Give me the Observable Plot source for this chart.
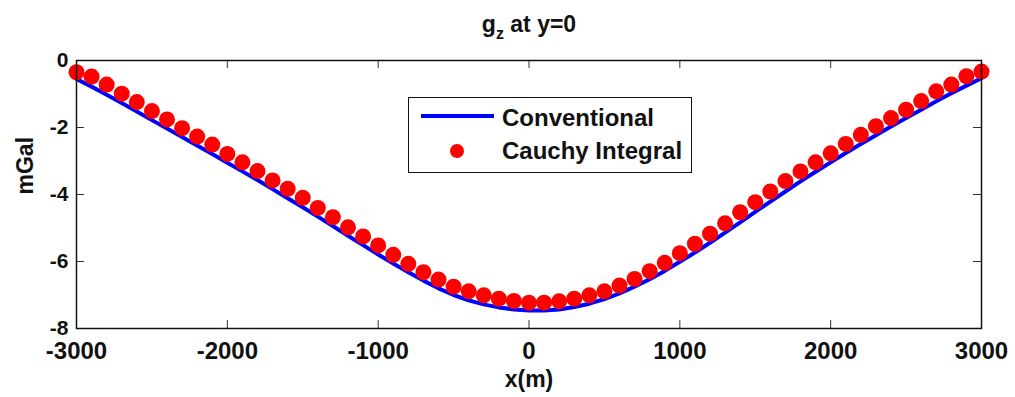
<!DOCTYPE html>
<html>
<head>
<meta charset="utf-8">
<script src="https://cdn.jsdelivr.net/npm/d3@7"></script>
<script src="https://cdn.jsdelivr.net/npm/@observablehq/plot@0.6"></script>
<style>
  body { margin: 0; background: #fff; }
  #chart { position: relative; width: 1015px; height: 397px; font-family: "Liberation Sans", Arial, sans-serif; font-weight: bold; color: #111; }
  .legend { position: absolute; left: 408px; top: 97px; width: 284px; height: 76px; border: 1.5px solid #111; background: #fff; box-sizing: border-box; }
  .legend .sw-line { position: absolute; left: 12px; top: 16px; width: 73px; height: 4px; background: #0000ff; }
  .legend .sw-dot { position: absolute; left: 41px; top: 46px; width: 14px; height: 14px; border-radius: 50%; background: #ff0000; }
  .legend .lab { position: absolute; left: 93px; font-size: 24px; line-height: 24px; white-space: nowrap; }
</style>
</head>
<body>
<div id="chart"></div>
<script>
// Profile positions along x (m)
const xPositions = [
  -3000, -2900, -2800, -2700, -2600, -2500, -2400, -2300, -2200, -2100,
  -2000, -1900, -1800, -1700, -1600, -1500, -1400, -1300, -1200, -1100,
  -1000, -900, -800, -700, -600, -500, -400, -300, -200, -100,
  0, 100, 200, 300, 400, 500, 600, 700, 800, 900,
  1000, 1100, 1200, 1300, 1400, 1500, 1600, 1700, 1800, 1900,
  2000, 2100, 2200, 2300, 2400, 2500, 2600, 2700, 2800, 2900, 3000
];

// g_z from the conventional computation (mGal)
const conventional = [
  -0.55, -0.78, -1.02, -1.27, -1.52, -1.78, -2.03, -2.28, -2.54, -2.79,
  -3.05, -3.31, -3.57, -3.84, -4.11, -4.38, -4.66, -4.94, -5.23, -5.51,
  -5.79, -6.06, -6.32, -6.57, -6.80, -7.00, -7.16, -7.28, -7.37, -7.43,
  -7.46, -7.46, -7.43, -7.36, -7.26, -7.12, -6.95, -6.75, -6.53, -6.28,
  -6.01, -5.73, -5.44, -5.14, -4.83, -4.52, -4.21, -3.91, -3.61, -3.32,
  -3.04, -2.76, -2.49, -2.23, -1.97, -1.72, -1.47, -1.22, -0.98, -0.75, -0.53
];

// g_z from the Cauchy integral (mGal)
const cauchy = [
  -0.35, -0.48, -0.72, -0.99, -1.24, -1.51, -1.76, -2.02, -2.27, -2.51,
  -2.79, -3.04, -3.30, -3.58, -3.83, -4.10, -4.40, -4.68, -4.98, -5.25,
  -5.52, -5.80, -6.07, -6.32, -6.54, -6.75, -6.89, -7.01, -7.11, -7.18,
  -7.23, -7.23, -7.19, -7.11, -7.01, -6.89, -6.72, -6.52, -6.29, -6.04,
  -5.75, -5.47, -5.17, -4.86, -4.53, -4.23, -3.91, -3.60, -3.31, -3.04,
  -2.77, -2.49, -2.22, -1.96, -1.72, -1.47, -1.21, -0.92, -0.72, -0.47, -0.33
];

const xTicks = [-3000, -2000, -1000, 0, 1000, 2000, 3000];
const yTicks = [0, -2, -4, -6, -8];

const lineData = xPositions.map((x, i) => ({x, g: conventional[i]}));
const dotData = xPositions.map((x, i) => ({x, g: cauchy[i]}));

const W = 1015, H = 397;
const mL = 76, mR = 34, mT = 60, mB = 69;
const innerW = W - mL - mR, innerH = H - mT - mB;
const tickLen = 8;
const fmt = d => `${d}`;

const plot = Plot.plot({
  width: W,
  height: H,
  marginLeft: mL,
  marginRight: mR,
  marginTop: mT,
  marginBottom: mB,
  style: {fontFamily: '"Liberation Sans", Arial, sans-serif', fontWeight: "bold", color: "#111", background: "#fff"},
  x: {domain: [-3000, 3000], label: null},
  y: {domain: [-8, 0], label: null},
  marks: [
    // inward ticks on all four sides
    Plot.tickX(xTicks, {x: d => d, insetTop: innerH - tickLen, stroke: "#333", strokeWidth: 1}),
    Plot.tickX(xTicks, {x: d => d, insetBottom: innerH - tickLen, stroke: "#333", strokeWidth: 1}),
    Plot.tickY(yTicks, {y: d => d, insetRight: innerW - tickLen, stroke: "#333", strokeWidth: 1}),
    Plot.tickY(yTicks, {y: d => d, insetLeft: innerW - tickLen, stroke: "#333", strokeWidth: 1}),
    Plot.axisX({ticks: xTicks, tickSize: 0, tickPadding: 13, fontSize: 24, tickFormat: fmt, label: null, fill: "#111"}),
    Plot.axisY({ticks: yTicks, tickSize: 0, tickPadding: 8, fontSize: 21, tickFormat: fmt, label: null, fill: "#111"}),
    Plot.line(lineData, {x: "x", y: "g", stroke: "#0000ff", strokeWidth: 4}),
    Plot.dot(dotData, {x: "x", y: "g", r: 8, fill: "#ff0000", stroke: "none"}),
    Plot.frame({stroke: "#111", strokeWidth: 1.5}),
    Plot.text(["gz at y=0"], {frameAnchor: "top", dy: -29, lineAnchor: "bottom", fontSize: 23, fill: "#111", className: "ttl"}),
    Plot.text(["x(m)"], {frameAnchor: "bottom", dy: 58, lineAnchor: "bottom", fontSize: 23, fill: "#111"}),
    Plot.text(["mGal"], {frameAnchor: "left", dx: -51, rotate: -90, fontSize: 23, fill: "#111"})
  ]
});

// subscript for the title
const t = plot.querySelector(".ttl text");
if (t) {
  const s = d3.select(t);
  s.text("g");
  s.append("tspan").attr("dy", 7).attr("font-size", 16).text("z");
  s.append("tspan").attr("dy", -7).text(" at y=0");
}

const chart = document.getElementById("chart");
chart.appendChild(plot);

// legend box
const legend = document.createElement("div");
legend.className = "legend";
legend.innerHTML = `
  <div class="sw-line"></div>
  <div class="lab" style="top:8px">Conventional</div>
  <div class="sw-dot"></div>
  <div class="lab" style="top:41px">Cauchy Integral</div>`;
chart.appendChild(legend);
</script>
</body>
</html>
